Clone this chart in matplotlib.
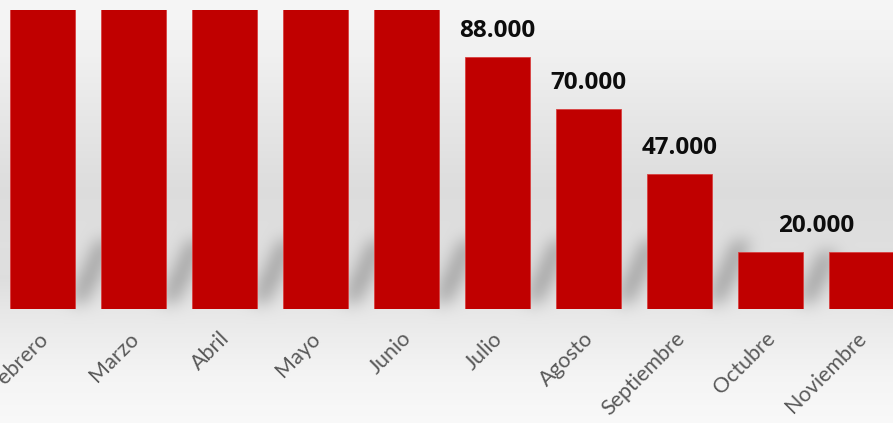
import numpy as np
import matplotlib
matplotlib.use("Agg")
import matplotlib.pyplot as plt
import matplotlib.transforms as mtransforms
from matplotlib.path import Path

months = ["Febrero", "Marzo", "Abril", "Mayo", "Junio", "Julio", "Agosto",
          "Septiembre", "Octubre", "Noviembre"]
values = [120000, 120000, 120000, 120000, 120000, 88000, 70000, 47000, 20000, 20000]
label_pos = [5, 6, 7, 8.5]
label_vals = [88000, 70000, 47000, 20000]
label_txt = ["88.000", "70.000", "47.000", "20.000"]

W, H = 893, 423
fig = plt.figure(figsize=(W / 100, H / 100), dpi=100)

bg = fig.add_axes([0, 0, 1, 1], zorder=0)
bg.set_axis_off()

x_left = -42.5 / 91
x_right = (W - 42.5) / 91
bottom = (H - 309) / H
top = (H - 10) / H
ax = fig.add_axes([0, bottom, 1, top - bottom], zorder=1)
ax.patch.set_alpha(0)
x = np.arange(len(months))
bw = 65 / 91
ax.bar(x, values, width=bw, color="#C00000", edgecolor="#d84040", linewidth=0.6)
ax.set_xlim(x_left, x_right)
ax.set_ylim(0, 104400)
for s in ax.spines.values():
    s.set_visible(False)
ax.set_yticks([])
ax.set_xticks(x)
ax.set_xticklabels(months, rotation=45, ha="right", rotation_mode="anchor",
                   fontsize=15.5, color="#595959", family=["Lato", "DejaVu Sans"])
ax.tick_params(axis="x", length=0, pad=14)
shift = mtransforms.ScaledTranslation(-5 / 100, 0, fig.dpi_scale_trans)
for lab in ax.get_xticklabels():
    lab.set_transform(lab.get_transform() + shift)

for px, v, t in zip(label_pos, label_vals, label_txt):
    ax.annotate(t, (px, v), xytext=(0, 14), textcoords="offset pixels",
                ha="center", va="bottom", fontsize=17.5, fontweight="bold",
                color="#0d0d0d", family=["Open Sans", "DejaVu Sans"],
                annotation_clip=False)

# background gradient + soft diagonal shadows behind bars
ys = np.linspace(0, 1, H)
stops_y = [0.0, 0.12, 0.30, 0.45, 0.58, 0.66, 0.73, 0.80, 0.90, 1.0]
stops_v = [0.965, 0.945, 0.90, 0.865, 0.875, 0.87, 0.905, 0.93, 0.96, 0.975]
col = np.interp(ys, stops_y, stops_v)
img = np.repeat(col[:, None], W, axis=1)

fig.canvas.draw()
yy, xx = np.mgrid[0:H, 0:W]
pts = np.column_stack([xx.ravel() + 0.5, (H - yy.ravel()) - 0.5])
mask = np.zeros(H * W)
for xi, v in zip(x, values):
    (l, b0), = ax.transData.transform([(xi - bw / 2, 0)])
    (r, t0), = ax.transData.transform([(xi + bw / 2, v)])
    hgt = min(t0 - b0, 68)
    dx = hgt * 0.4
    poly = Path([(r - 6, b0 + 6), (r + 12, b0 + 6), (r + 12 + dx, b0 + hgt),
                 (r - 6 + dx, b0 + hgt), (r - 6, b0 + 6)])
    mask = np.maximum(mask, poly.contains_points(pts).astype(float))
mask = mask.reshape(H, W)
sig = 8
k = np.exp(-0.5 * (np.arange(-3 * sig, 3 * sig + 1) / sig) ** 2)
k /= k.sum()
mask = np.apply_along_axis(lambda r: np.convolve(r, k, mode="same"), 1, mask)
mask = np.apply_along_axis(lambda c: np.convolve(c, k, mode="same"), 0, mask)
img = img - 0.24 * mask
bg.imshow(np.dstack([img, img, img]).clip(0, 1), aspect="auto",
          extent=[0, 1, 0, 1], interpolation="bilinear")
bg.set_xlim(0, 1)
bg.set_ylim(0, 1)

fig.savefig("out.png", dpi=100)
